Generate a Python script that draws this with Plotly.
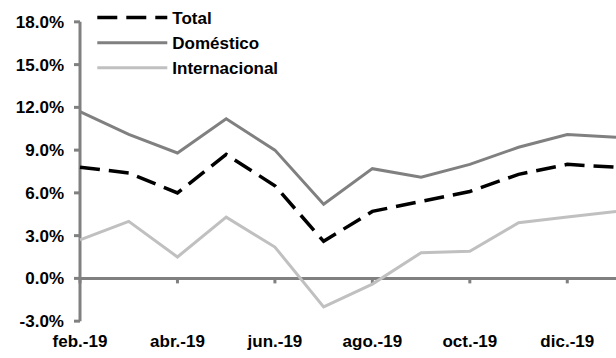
import plotly.graph_objects as go

# Monthly series, Feb-2019 to Jan-2020 (annual growth, %)
months = ["feb.-19", "mar.-19", "abr.-19", "may.-19", "jun.-19", "jul.-19",
          "ago.-19", "sep.-19", "oct.-19", "nov.-19", "dic.-19", "ene.-20"]
total = [7.8, 7.4, 6.0, 8.7, 6.5, 2.6, 4.7, 5.4, 6.1, 7.3, 8.0, 7.8]
domestico = [11.7, 10.1, 8.8, 11.2, 9.0, 5.2, 7.7, 7.1, 8.0, 9.2, 10.1, 9.9]
internacional = [2.7, 4.0, 1.5, 4.3, 2.2, -2.0, -0.4, 1.8, 1.9, 3.9, 4.3, 4.7]

y_ticks = [-3, 0, 3, 6, 9, 12, 15, 18]
y_tick_text = ["-3.0%", "0.0%", "3.0%", "6.0%", "9.0%", "12.0%", "15.0%", "18.0%"]


def bold(s):
    return "<b>" + s + "</b>"


x = list(range(len(months)))
x_ticks = x[::2]
axis_grey = "#808080"
font = dict(family="Liberation Sans, Arial, sans-serif", size=17, color="black")

# canvas and plotting area
W, H = 616, 358
m_left, m_right, m_top, m_bottom = 72, 0, 18, 34
x_range = [-0.1642, len(months) - 1]
y_range = [-3.2, 18.2]
px_x = (W - m_left - m_right) / (x_range[1] - x_range[0])
px_y = (H - m_top - m_bottom) / (y_range[1] - y_range[0])
ytick_len = 6 / px_x   # tick length in data units
xtick_len = 5 / px_y

# axis lines and tick marks, drawn as line traces behind the series
ax_x, ax_y = [0, 0], [min(y_ticks), max(y_ticks)]
ax_x += [None, 0, x[-1]]
ax_y += [None, 0, 0]
for v in y_ticks:
    ax_x += [None, -ytick_len, 0]
    ax_y += [None, v, v]
for i in x_ticks:
    ax_x += [None, i, i]
    ax_y += [None, 0, -xtick_len]

fig = go.Figure()
fig.add_trace(go.Scatter(x=ax_x, y=ax_y, mode="lines", showlegend=False, hoverinfo="skip",
                         line=dict(color=axis_grey, width=3), connectgaps=False))
fig.add_trace(go.Scatter(x=x, y=total, name=bold("Total"), mode="lines", legendgroup="a",
                         line=dict(color="black", width=3.5, dash="20px,9px")))
fig.add_trace(go.Scatter(x=x, y=domestico, name=bold("Doméstico"), mode="lines", legendgroup="b",
                         line=dict(color="#808080", width=3)))
fig.add_trace(go.Scatter(x=x, y=internacional, name=bold("Internacional"), mode="lines",
                         legendgroup="c", line=dict(color="#c0c0c0", width=3)))

fig.update_layout(
    width=W, height=H,
    margin=dict(l=m_left, r=m_right, t=m_top, b=m_bottom),
    paper_bgcolor="white", plot_bgcolor="white",
    font=font,
    showlegend=True,
    legend=dict(x=0.0373, y=1.0637, xanchor="left", yanchor="top",
                bgcolor="rgba(0,0,0,0)", font=font, itemwidth=70,
                tracegroupgap=0),
    xaxis=dict(range=x_range, tickvals=x_ticks, ticktext=[bold(months[i]) for i in x_ticks],
               showline=False, ticks="", showgrid=False, zeroline=False,
               tickfont=font, ticklabelstandoff=5),
    yaxis=dict(range=y_range, tickvals=y_ticks, ticktext=[bold(t) for t in y_tick_text],
               showline=False, ticks="", showgrid=False, zeroline=False,
               tickfont=font, ticklabelstandoff=7),
)

fig.write_html("out.html")
